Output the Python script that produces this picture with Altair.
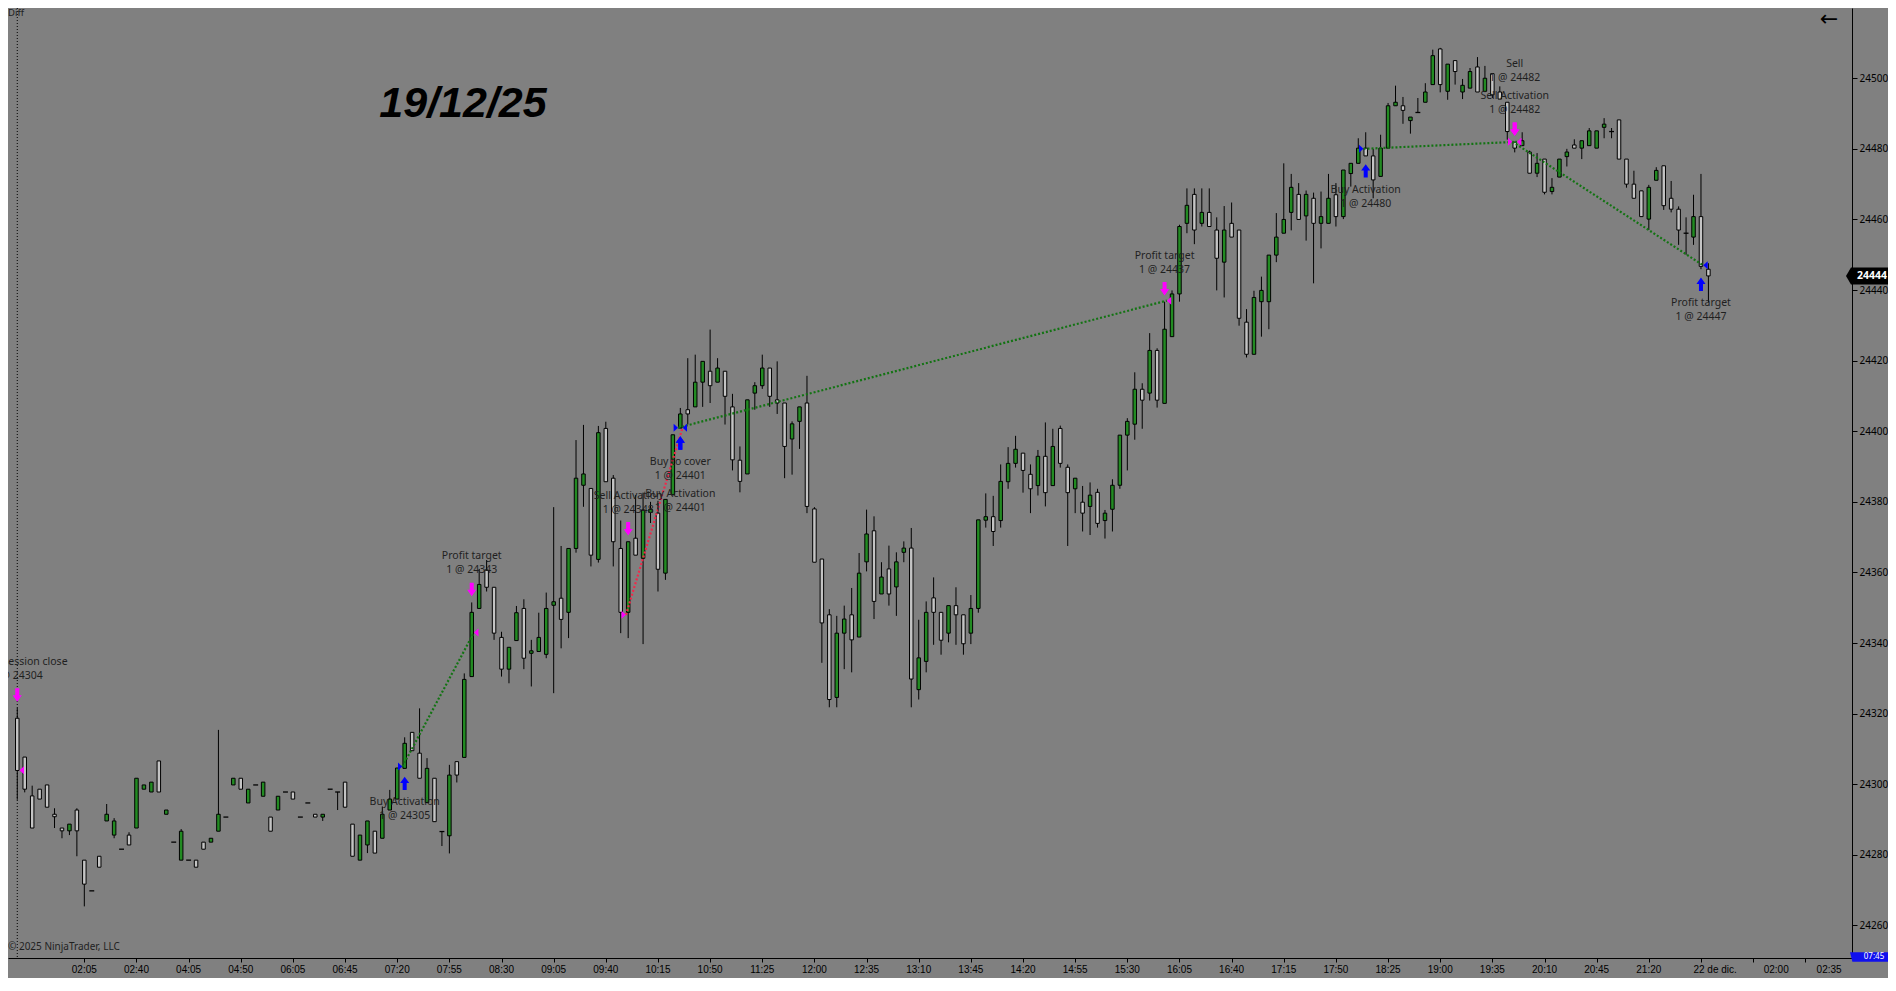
import altair as alt
import pandas as pd

# ---- candles (5 min bars, index = bar number on the time axis) ----
opens = [
    24318.7, 24307.7, 24296.7, 24298.6, 24299.8, 24291.5, 24287.6, 24286.8, 24292.7, 24278.5,
    24269.8, 24279.6, 24289.6, 24285.6, 24281.6, 24285.6, 24287.6, 24298.6, 24297.8, 24306.6,
    24291.5, 24283.6, 24278.5, 24278.5, 24278.5, 24283.6, 24283.6, 24286.7, 24290.7, 24299.8,
    24301.7, 24294.7, 24299.8, 24296.6, 24290.7, 24292.7, 24297.8, 24297.8, 24290.7, 24294.7,
    24291.5, 24290.7, 24298.6, 24297.8, 24300.6, 24288.7, 24278.5, 24282.8, 24286.7, 24284.7,
    24292.7, 24295.8, 24304.5, 24314.7, 24308.8, 24294.8, 24301.7, 24286.6, 24285.4, 24306.4,
    24307.6, 24330.5, 24349.8, 24360.7, 24355.8, 24341.6, 24332.6, 24340.7, 24349.8, 24337.1,
    24337.6, 24336.8, 24350.7, 24352.7, 24348.7, 24366.8, 24384.7, 24383.8, 24363.7, 24400.8,
    24386.7, 24366.8, 24348.7, 24369.7, 24364.0, 24377.0, 24376.8, 24359.8, 24382.0, 24400.9,
    24406.1, 24406.9, 24413.9, 24417.0, 24413.9, 24417.0, 24406.9, 24391.8, 24387.9, 24410.8,
    24412.9, 24417.9, 24408.9, 24408.0, 24397.8, 24402.8, 24408.0, 24378.0, 24363.8, 24348.0,
    24324.6, 24342.8, 24348.0, 24341.7, 24363.0, 24371.8, 24353.9, 24361.0, 24355.9, 24365.7,
    24366.9, 24326.8, 24334.8, 24352.8, 24348.7, 24342.8, 24350.6, 24348.0, 24342.8, 24349.8,
    24374.8, 24375.8, 24374.7, 24385.7, 24390.9, 24393.8, 24387.8, 24384.6, 24392.9, 24384.6,
    24400.8, 24389.8, 24383.7, 24379.9, 24378.7, 24382.7, 24374.7, 24377.9, 24384.7, 24398.9,
    24402.0, 24411.9, 24410.8, 24422.9, 24407.9, 24426.8, 24438.9, 24458.9, 24467.1, 24458.9,
    24462.0, 24457.0, 24447.9, 24458.9, 24457.0, 24430.9, 24421.8, 24436.7, 24436.7, 24449.9,
    24456.1, 24462.0, 24467.1, 24461.0, 24466.0, 24458.9, 24458.9, 24467.0, 24460.8, 24473.0,
    24475.9, 24480.2, 24478.0, 24472.2, 24480.2, 24492.2, 24492.2, 24488.0, 24490.3, 24493.2,
    24498.2, 24508.3, 24496.3, 24505.0, 24496.1, 24497.2, 24503.2, 24496.3, 24501.3, 24496.1,
    24493.2, 24481.9, 24480.9, 24479.1, 24473.1, 24477.1, 24467.9, 24472.0, 24477.8, 24481.1,
    24480.2, 24480.9, 24480.2, 24486.1, 24484.9, 24488.2, 24477.1, 24470.0, 24468.1, 24460.1,
    24471.1, 24475.2, 24466.0, 24462.9, 24456.1, 24455.0, 24460.8, 24445.9,
]
highs = [
    24321.6, 24307.7, 24299.6, 24298.6, 24299.8, 24293.2, 24287.6, 24288.7, 24293.2, 24278.5,
    24269.8, 24279.6, 24294.4, 24290.4, 24281.6, 24286.4, 24301.7, 24299.8, 24300.6, 24306.6,
    24292.7, 24283.6, 24287.3, 24278.5, 24278.5, 24283.6, 24284.7, 24315.4, 24290.7, 24301.7,
    24301.7, 24298.6, 24299.8, 24300.6, 24290.7, 24296.6, 24297.8, 24297.8, 24290.7, 24294.7,
    24291.5, 24291.5, 24298.6, 24297.8, 24300.6, 24288.7, 24285.6, 24289.6, 24286.7, 24293.7,
    24298.4, 24304.6, 24313.3, 24314.7, 24321.5, 24307.4, 24301.7, 24286.6, 24305.5, 24306.4,
    24331.4, 24351.5, 24361.0, 24363.5, 24355.8, 24343.2, 24338.8, 24350.5, 24352.4, 24340.9,
    24348.6, 24354.3, 24378.5, 24367.5, 24366.8, 24397.5, 24401.8, 24383.8, 24401.5, 24402.7,
    24387.6, 24374.7, 24368.7, 24381.9, 24382.6, 24380.0, 24380.3, 24380.7, 24399.0, 24406.6,
    24420.7, 24421.7, 24419.8, 24428.8, 24420.7, 24417.0, 24410.6, 24395.7, 24408.9, 24413.9,
    24421.7, 24417.9, 24419.8, 24408.0, 24402.8, 24406.9, 24415.7, 24378.5, 24363.8, 24349.6,
    24347.7, 24350.6, 24355.6, 24365.5, 24377.8, 24375.9, 24362.9, 24367.6, 24365.7, 24368.8,
    24372.6, 24346.6, 24351.8, 24358.6, 24348.7, 24350.6, 24355.8, 24348.0, 24353.6, 24374.9,
    24382.4, 24381.7, 24390.6, 24395.5, 24398.7, 24393.8, 24390.6, 24394.7, 24402.5, 24400.7,
    24401.6, 24390.6, 24386.7, 24384.5, 24385.5, 24383.7, 24377.7, 24386.4, 24398.9, 24403.7,
    24416.7, 24413.6, 24427.8, 24423.5, 24436.7, 24439.9, 24458.5, 24468.8, 24468.8, 24468.8,
    24468.8, 24460.6, 24463.8, 24464.8, 24457.0, 24434.6, 24439.8, 24443.8, 24449.9, 24461.8,
    24475.9, 24472.9, 24470.3, 24468.2, 24467.6, 24467.9, 24472.9, 24470.3, 24474.0, 24475.9,
    24483.0, 24484.7, 24480.0, 24484.0, 24493.0, 24497.9, 24494.7, 24489.0, 24494.4, 24498.6,
    24508.1, 24508.6, 24504.0, 24505.0, 24499.8, 24502.9, 24506.0, 24503.5, 24501.3, 24497.7,
    24493.2, 24481.9, 24484.7, 24479.5, 24478.8, 24477.1, 24471.7, 24477.1, 24480.0, 24482.7,
    24482.3, 24485.9, 24485.1, 24488.7, 24485.9, 24488.2, 24477.1, 24473.8, 24468.1, 24469.8,
    24474.8, 24475.2, 24470.9, 24463.7, 24460.6, 24467.0, 24472.9, 24447.6,
]
lows = [
    24295.6, 24297.7, 24287.6, 24295.8, 24293.5, 24287.6, 24284.7, 24285.6, 24279.6, 24265.4,
    24269.8, 24276.5, 24289.6, 24284.7, 24281.6, 24282.8, 24287.6, 24298.6, 24297.8, 24297.8,
    24291.5, 24283.6, 24278.5, 24278.5, 24276.5, 24281.6, 24283.6, 24286.7, 24290.7, 24299.8,
    24298.6, 24294.7, 24299.8, 24296.6, 24286.7, 24292.7, 24297.8, 24295.8, 24290.7, 24294.7,
    24290.7, 24289.6, 24298.6, 24292.7, 24293.5, 24279.6, 24278.5, 24280.5, 24280.5, 24284.7,
    24292.7, 24295.8, 24304.5, 24309.5, 24301.7, 24294.8, 24289.4, 24282.5, 24280.4, 24300.5,
    24307.6, 24330.5, 24349.8, 24354.6, 24340.9, 24330.5, 24328.6, 24340.7, 24332.6, 24327.7,
    24337.6, 24335.7, 24325.8, 24338.5, 24341.4, 24365.6, 24378.6, 24361.7, 24362.8, 24385.7,
    24361.7, 24342.8, 24341.4, 24364.9, 24339.7, 24374.0, 24354.6, 24357.9, 24382.0, 24400.9,
    24401.9, 24406.9, 24406.9, 24408.0, 24413.9, 24401.9, 24388.9, 24382.7, 24387.9, 24406.1,
    24412.0, 24406.9, 24404.9, 24386.7, 24387.7, 24395.0, 24376.8, 24362.9, 24334.4, 24321.8,
    24321.8, 24332.6, 24331.7, 24341.7, 24360.3, 24346.8, 24353.9, 24350.6, 24347.7, 24362.9,
    24321.8, 24324.0, 24331.7, 24339.5, 24336.7, 24340.2, 24339.5, 24336.7, 24339.7, 24348.6,
    24372.7, 24367.5, 24372.7, 24383.7, 24389.7, 24382.6, 24376.8, 24381.8, 24378.7, 24384.6,
    24389.7, 24367.5, 24376.8, 24371.6, 24370.6, 24372.7, 24369.6, 24371.6, 24383.7, 24388.9,
    24397.6, 24400.7, 24408.7, 24406.7, 24407.9, 24426.8, 24436.7, 24456.1, 24453.0, 24458.0,
    24458.0, 24439.9, 24437.9, 24455.0, 24429.9, 24420.9, 24421.8, 24426.8, 24428.9, 24447.9,
    24456.1, 24456.9, 24460.0, 24454.0, 24441.9, 24451.8, 24458.9, 24458.0, 24460.1, 24469.3,
    24475.9, 24478.0, 24466.0, 24472.2, 24480.2, 24492.2, 24487.1, 24484.3, 24490.3, 24493.2,
    24498.2, 24496.0, 24493.9, 24498.2, 24494.1, 24497.2, 24496.1, 24496.3, 24494.4, 24494.1,
    24482.6, 24479.0, 24480.9, 24473.1, 24472.0, 24467.1, 24467.1, 24472.0, 24475.0, 24480.2,
    24477.1, 24480.9, 24480.2, 24483.0, 24483.0, 24477.1, 24469.0, 24466.0, 24460.8, 24457.0,
    24471.1, 24462.7, 24462.0, 24452.8, 24450.0, 24452.8, 24445.9, 24436.5,
]
closes = [
    24303.9, 24298.6, 24287.6, 24295.8, 24293.5, 24290.8, 24286.8, 24288.7, 24286.8, 24271.7,
    24269.8, 24276.5, 24291.5, 24289.6, 24281.6, 24282.8, 24301.7, 24299.8, 24300.6, 24297.8,
    24292.7, 24283.6, 24286.7, 24278.5, 24276.5, 24281.6, 24284.7, 24291.5, 24290.7, 24301.7,
    24298.6, 24298.6, 24299.8, 24300.6, 24286.7, 24296.6, 24297.8, 24295.8, 24290.7, 24294.7,
    24290.7, 24291.5, 24298.6, 24297.8, 24293.5, 24279.6, 24285.6, 24289.6, 24280.5, 24291.5,
    24295.8, 24304.6, 24311.6, 24309.5, 24301.7, 24304.5, 24289.4, 24286.6, 24302.6, 24302.6,
    24329.7, 24348.7, 24356.6, 24355.8, 24342.8, 24332.6, 24338.8, 24348.6, 24335.7, 24337.8,
    24341.6, 24349.8, 24351.7, 24346.7, 24366.8, 24386.7, 24387.9, 24364.9, 24399.6, 24385.7,
    24368.7, 24348.7, 24368.7, 24364.9, 24377.7, 24377.9, 24360.9, 24380.7, 24399.0, 24404.9,
    24404.9, 24413.9, 24419.8, 24412.9, 24417.9, 24409.9, 24391.9, 24385.8, 24408.9, 24412.9,
    24417.9, 24409.9, 24408.0, 24395.7, 24402.1, 24406.9, 24378.7, 24362.9, 24345.7, 24324.0,
    24342.8, 24346.8, 24340.9, 24359.8, 24370.9, 24351.8, 24358.7, 24353.9, 24363.0, 24366.9,
    24329.8, 24335.8, 24348.7, 24348.7, 24340.8, 24350.6, 24348.0, 24339.8, 24349.8, 24374.9,
    24375.8, 24371.6, 24385.8, 24390.9, 24394.9, 24388.9, 24383.7, 24392.9, 24382.6, 24395.7,
    24390.9, 24382.6, 24386.7, 24376.8, 24381.9, 24373.9, 24376.8, 24384.7, 24398.9, 24402.8,
    24411.9, 24408.8, 24422.9, 24408.8, 24428.9, 24438.9, 24458.0, 24464.0, 24457.0, 24462.0,
    24458.0, 24449.0, 24457.0, 24455.0, 24432.0, 24421.8, 24437.9, 24439.9, 24449.9, 24455.0,
    24460.0, 24469.1, 24460.0, 24467.1, 24458.9, 24460.8, 24466.0, 24460.8, 24474.0, 24475.9,
    24480.2, 24478.0, 24471.2, 24480.2, 24492.2, 24493.2, 24490.9, 24489.0, 24490.3, 24496.1,
    24506.4, 24498.2, 24504.0, 24501.9, 24498.0, 24501.9, 24496.1, 24500.0, 24495.3, 24494.1,
    24484.9, 24480.2, 24482.3, 24473.1, 24475.9, 24467.7, 24469.1, 24477.1, 24479.1, 24480.2,
    24482.3, 24485.1, 24485.1, 24487.0, 24484.9, 24477.1, 24470.0, 24466.0, 24460.8, 24469.1,
    24473.9, 24463.9, 24462.9, 24457.0, 24456.1, 24460.8, 24446.7, 24444.0,
]

# ---- time axis: a label every 7 bars, then the next-session labels ----
tick_bars = [9 + 7 * k for k in range(34)]
time_labels = ["02:05", "02:40", "04:05", "04:50", "06:05", "06:45", "07:20", "07:55",
               "08:30", "09:05", "09:40", "10:15", "10:50", "11:25", "12:00", "12:35",
               "13:10", "13:45", "14:20", "14:55", "15:30", "16:05", "16:40", "17:15",
               "17:50", "18:25", "19:00", "19:35", "20:10", "20:45", "21:20"]
tail_labels = ["22 de dic.", "02:00", "02:35"]
tail_bars = [227.9, 236.1, 243.2]
price_ticks = list(range(24260, 24521, 20))

# ---- executions ----
ev_bar = [0, 52, 61, 82, 89, 89, 154, 181, 201, 201, 226]
ev_price = [24304, 24305, 24343, 24348, 24401, 24401, 24437, 24480, 24482, 24482, 24447]
ev_action = ["sell", "buy", "sell", "sell", "buy", "buy", "sell", "buy", "sell", "sell", "buy"]
ev_kind = ["exit", "entry", "exit", "entry", "exit", "entry", "exit", "entry", "entry", "exit", "exit"]
ev_name = ["Exit on session close", "Buy Activation", "Profit target", "Sell Activation",
           "Buy to cover", "Buy Activation", "Profit target", "Buy Activation",
           "Sell Activation", "Sell", "Profit target"]

trade_entry_bar = [52, 82, 89, 181, 201]
trade_exit_bar = [61, 89, 154, 201, 226]
trade_entry_price = [24305, 24348, 24401, 24480, 24482]
trade_exit_price = [24343, 24401, 24437, 24482, 24447]
trade_result = ["win", "loss", "win", "win", "win"]

# ---- look ----
BG = "#808080"
UP, DOWN = "#228B22", "#C4C4C4"
BUY, SELL = "#0000ff", "#ff00ff"
WIN, LOSS = "#137313", "#f0284a"
INK = "#1f1f1f"
FONT = "Noto Sans"

PLOT_W, PLOT_H = 1844, 950
PX_PER_PT = 3.53
BAR_PX = 7.4906
Y_TOP = 24519.9
xscale = alt.Scale(domain=[-0.574, -0.574 + PLOT_W / BAR_PX], nice=False, zero=False)
yscale = alt.Scale(domain=[Y_TOP - PLOT_H / PX_PER_PT, Y_TOP], nice=False, zero=False)
xaxis = alt.Axis(values=tick_bars, labels=False, title=None, grid=False, orient="bottom",
                 domainColor="black", tickColor="black", tickSize=4)
yaxis = alt.Axis(values=price_ticks, format="d", title=None, grid=False, orient="right",
                 domainColor="black", tickColor="black", tickSize=5, labelColor="black",
                 labelFont=FONT, labelFontSize=10, labelPadding=2)


def X(field):
    return alt.X(field, type="quantitative", scale=xscale, axis=xaxis)


def Y(field):
    return alt.Y(field, type="quantitative", scale=yscale, axis=yaxis)


bars = pd.DataFrame({"i": range(len(opens)), "open": opens, "high": highs,
                     "low": lows, "close": closes})
flat = (bars["close"] - bars["open"]).abs() < 0.15
ups = bars[~flat & (bars["close"] > bars["open"])]
downs = bars[~flat & (bars["close"] < bars["open"])]
doji = bars[flat].assign(xl=lambda d: d["i"] - 0.33, xr=lambda d: d["i"] + 0.33)

session = alt.Chart(pd.DataFrame({"i": [0]})).mark_rule(
    color="black", strokeDash=[1, 2], strokeWidth=1).encode(
    x=X("i"), y=alt.value(0), y2=alt.value(PLOT_H))

wicks = alt.Chart(bars).mark_rule(color="black", strokeWidth=1).encode(
    x=X("i"), y=Y("low"), y2=alt.Y2("high"))
body_up = alt.Chart(ups).mark_bar(size=3.5, stroke="black", strokeWidth=1, fill=UP).encode(
    x=X("i"), y=Y("open"), y2=alt.Y2("close"))
body_dn = alt.Chart(downs).mark_bar(size=3.5, stroke="black", strokeWidth=1, fill=DOWN).encode(
    x=X("i"), y=Y("open"), y2=alt.Y2("close"))
dashes = alt.Chart(doji).mark_rule(color="black", strokeWidth=1.3).encode(
    x=X("xl"), x2=alt.X2("xr"), y=Y("open"))

# trade lines, from entry marker to exit marker
rows = []
for t in range(len(trade_entry_bar)):
    rows.append({"t": t, "x": trade_entry_bar[t] - 0.3, "p": trade_entry_price[t], "res": trade_result[t]})
    rows.append({"t": t, "x": trade_exit_bar[t] + 0.3, "p": trade_exit_price[t], "res": trade_result[t]})
tl = pd.DataFrame(rows)
trade_layers = [
    alt.Chart(tl[tl["res"] == res]).mark_line(strokeDash=[2, 2], strokeWidth=2.2, color=col).encode(
        x=X("x"), y=Y("p"), detail="t:N")
    for res, col in [("win", WIN), ("loss", LOSS)]
]

ev = pd.DataFrame({"bar": ev_bar, "price": ev_price, "action": ev_action,
                   "kind": ev_kind, "name": ev_name})
ev["anchor"] = [highs[b] if a == "sell" else lows[b] for b, a in zip(ev_bar, ev_action)]
level, seen = [], {}
for b, a in zip(ev_bar, ev_action):
    level.append(seen.get((b, a), 0))
    seen[(b, a)] = level[-1] + 1
ev["level"] = level

RIGHT_TRI = "M -0.55 -1 L 0.55 0 L -0.55 1 Z"
LEFT_TRI = "M 0.55 -1 L -0.55 0 L 0.55 1 Z"
UP_ARROW = "M -0.3 1 L 0.3 1 L 0.3 -0.05 L 0.68 -0.05 L 0 -1 L -0.68 -0.05 L -0.3 -0.05 Z"
DOWN_ARROW = "M -0.3 -1 L 0.3 -1 L 0.3 0.05 L 0.68 0.05 L 0 1 L -0.68 0.05 L -0.3 0.05 Z"

marker_layers = []
for act, col in [("buy", BUY), ("sell", SELL)]:
    for kind, shape, xo in [("entry", RIGHT_TRI, -4.5), ("exit", LEFT_TRI, 4.5)]:
        sub = ev[(ev["action"] == act) & (ev["kind"] == kind)]
        marker_layers.append(alt.Chart(sub).mark_point(
            shape=shape, size=64, filled=True, opacity=1, strokeWidth=0, color=col, xOffset=xo).encode(
            x=X("bar"), y=Y("price")))
arr_up = alt.Chart(ev[ev["action"] == "buy"]).mark_point(
    shape=UP_ARROW, size=180, filled=True, opacity=1, strokeWidth=0, color=BUY, yOffset=15).encode(
    x=X("bar"), y=Y("anchor"))
arr_dn = alt.Chart(ev[ev["action"] == "sell"]).mark_point(
    shape=DOWN_ARROW, size=180, filled=True, opacity=1, strokeWidth=0, color=SELL, yOffset=-13).encode(
    x=X("bar"), y=Y("anchor"))

# two-line execution labels, stacked away from the bar
lab_rows = []
for _, r in ev.iterrows():
    lines = [r["name"], f"1 @ {r['price']}"]
    if r["action"] == "sell":
        offs = [-46 - 32 * r["level"], -32 - 32 * r["level"]]
    else:
        offs = [34 + 32 * r["level"], 48 + 32 * r["level"]]
    for txt, off in zip(lines, offs):
        lab_rows.append({"bar": r["bar"], "anchor": r["anchor"], "off": off, "txt": txt})
labs = pd.DataFrame(lab_rows)
label_layers = [
    alt.Chart(labs[labs["off"] == off]).mark_text(
        dy=int(off), fontSize=10.5, font=FONT, color=INK, align="center", baseline="middle").encode(
        x=X("bar"), y=Y("anchor"), text="txt:N")
    for off in sorted(labs["off"].unique())
]

xlabels = alt.Chart(pd.DataFrame({"pos": tick_bars[:len(time_labels)] + tail_bars,
                                  "lab": time_labels + tail_labels})).mark_text(
    fontSize=10, font="Liberation Sans", color="black", baseline="middle").encode(
    x=X("pos"), y=alt.value(PLOT_H + 12), text="lab:N")

date_txt = alt.Chart(pd.DataFrame({"t": ["19/12/25"]})).mark_text(
    font="Liberation Sans", fontSize=43, fontWeight="bold", fontStyle="italic",
    color="black", baseline="middle").encode(x=alt.value(455), y=alt.value(96), text="t:N")
diff_txt = alt.Chart(pd.DataFrame({"t": ["Diff"]})).mark_text(
    font=FONT, fontSize=9.5, color=INK, align="left", baseline="middle").encode(
    x=alt.value(0), y=alt.value(5), text="t:N")
copy_txt = alt.Chart(pd.DataFrame({"t": ["© 2025 NinjaTrader, LLC"]})).mark_text(
    font=FONT, fontSize=10, color=INK, align="left", baseline="middle").encode(
    x=alt.value(0), y=alt.value(939), text="t:N")
back_txt = alt.Chart(pd.DataFrame({"t": ["←"]})).mark_text(
    font="DejaVu Sans", fontSize=22, color="black", baseline="middle").encode(
    x=alt.value(1821), y=alt.value(11), text="t:N")

last = pd.DataFrame({"p": [closes[-1]], "t": [f"{closes[-1]:.0f}"]})
TAG = "M -1 0 L -0.8 -0.34 L 1 -0.34 L 1 0.34 L -0.8 0.34 Z"
tag = alt.Chart(last).mark_point(shape=TAG, size=2500, filled=True, opacity=1,
                                 strokeWidth=0, color="black").encode(
    x=alt.value(1863), y=Y("p"))
tag_txt = alt.Chart(last).mark_text(font=FONT, fontSize=10.5, fontWeight="bold",
                                    color="white", baseline="middle").encode(
    x=alt.value(1864), y=Y("p"), text="t:N")

TIMER = "M -1 -0.2 L 1 -0.2 L 1 0.2 L -0.9 0.2 Z"
timer = alt.Chart(pd.DataFrame({"t": ["07:45"]})).mark_point(
    shape=TIMER, size=2304, filled=True, opacity=1, strokeWidth=0, color="#1010ee").encode(
    x=alt.value(1866), y=alt.value(PLOT_H - 1))
timer_txt = alt.Chart(pd.DataFrame({"t": ["07:45"]})).mark_text(
    font=FONT, fontSize=8, color="white", baseline="middle").encode(
    x=alt.value(1866), y=alt.value(PLOT_H - 1), text="t:N")

chart = alt.layer(
    session, wicks, body_up, body_dn, dashes, *trade_layers, *marker_layers, arr_up, arr_dn,
    *label_layers, xlabels, date_txt, diff_txt, copy_txt, back_txt,
    tag, tag_txt, timer, timer_txt,
).properties(
    width=PLOT_W, height=PLOT_H,
    padding={"left": 0, "top": 0, "right": 36, "bottom": 20},
    autosize=alt.AutoSizeParams(type="none"),
).configure(background=BG).configure_view(stroke=None)

chart.save("out.html", embed_options={"renderer": "svg", "actions": False})
